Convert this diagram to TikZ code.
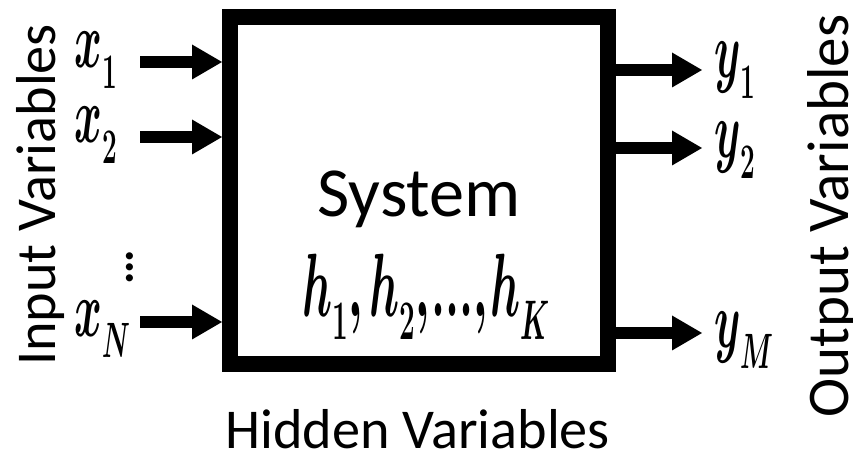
\RequirePackage{fix-cm}
\documentclass[tikz,border=0pt]{standalone}
\usepackage{fontspec}
\usepackage{graphicx}
\newfontfamily\calfont{Carlito}
\usetikzlibrary{arrows.meta}
\newcommand{\sbs}[1]{\raisebox{-0.25em}{\scalebox{0.62}{#1}}}
\newcommand{\tall}[2][1.9]{\scalebox{1}[#1]{\boldmath#2}}
\tikzset{
  sysbox/.style={
    draw,
    line width=0.4cm,
    minimum width=9.45cm,
    minimum height=8.675cm,
    inner sep=0
  },
  sigarrow/.style={
    line width=0.3cm,
    -{Triangle[length=0.75cm,width=0.875cm,line width=0pt]}
  },
  wordlabel/.style={
    inner sep=0,
    anchor=base,
    font=\calfont\fontsize{40}{48}\selectfont
  },
  varlabel/.style={
    inner sep=0,
    anchor=base west,
    font=\fontsize{30}{36}\selectfont
  }
}
\begin{document}
\begin{tikzpicture}
  \useasboundingbox (0,0) rectangle (21.325,11.375);
  \node[sysbox] (sys) at (10.475,6.6125) {};
  % inputs
  \coordinate (in1) at (3.5,9.825);
  \coordinate (in2) at (3.5,7.95);
  \coordinate (inN) at (3.5,3.325);
  \node[varlabel] (x1) at (1.85,9.675) {\tall{$x$\sbs{$1$}}};
  \node[varlabel] (x2) at (1.85,7.8) {\tall{$x$\sbs{$2$}}};
  \node[varlabel] (xN) at (1.85,2.95) {\tall{$x$\sbs{$N$}}};
  \node[inner sep=0,font=\calfont\bfseries\fontsize{34}{7}\selectfont] (vd) at (3.25,4.7)
    {\vbox{\baselineskip=7.8pt\lineskiplimit=-100pt\hbox{.}\hbox{.}\hbox{.}}};
  \draw[sigarrow] (in1) -- (in1 -| sys.west);
  \draw[sigarrow] (in2) -- (in2 -| sys.west);
  \draw[sigarrow] (inN) -- (inN -| sys.west);
  % outputs
  \coordinate (out1) at (17.55,9.625);
  \coordinate (out2) at (17.55,7.675);
  \coordinate (outM) at (17.55,3.05);
  \node[varlabel] (y1) at (17.85,9.425) {\tall{$y$\sbs{$1$}}};
  \node[varlabel] (y2) at (17.85,7.425) {\tall{$y$\sbs{$2$}}};
  \node[varlabel] (yM) at (17.85,2.675) {\tall{$y$\sbs{$M$}}};
  \draw[sigarrow] (out1 -| sys.east) -- (out1);
  \draw[sigarrow] (out2 -| sys.east) -- (out2);
  \draw[sigarrow] (outM -| sys.east) -- (outM);
  % texts
  \node[wordlabel,font=\calfont\fontsize{50}{60}\selectfont] (systxt) at (10.475,5.95) {System};
  \node[inner sep=0,anchor=base,font=\fontsize{32}{40}\selectfont] (hvars) at (10.65,3.45)
    {\tall[2]{$h$\sbs{$1$}$,$\hspace{0.15em}$h$\sbs{$2$}$,$\hspace{0.05em}\textbf{...}$,$\hspace{0.05em}$h$\sbs{$K$}}};
  \node[wordlabel] (hidtxt) at (10.44,0.15) {Hidden Variables};
  \node[wordlabel,rotate=90] (intxt) at (1.375,6.5) {Input Variables};
  \node[wordlabel,rotate=90,font=\calfont\fontsize{42}{50}\selectfont] (outtxt) at (21.22,5.975) {Output Variables};
\end{tikzpicture}
\end{document}
